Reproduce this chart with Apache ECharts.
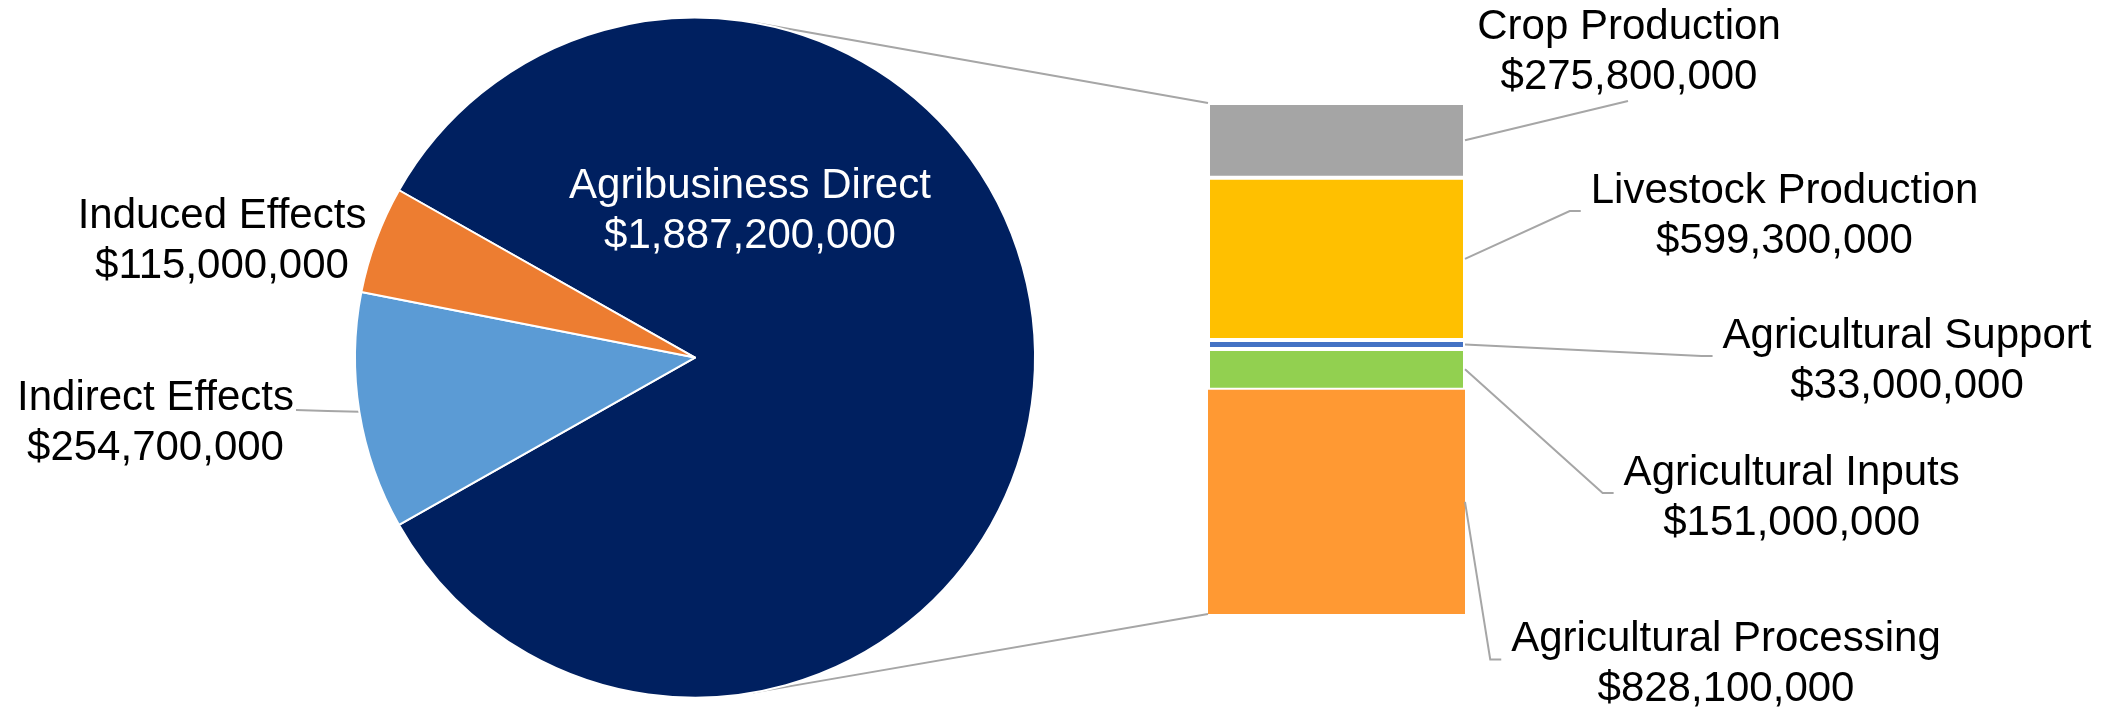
<!DOCTYPE html>
<html><head><meta charset="utf-8">
<script src="https://cdn.jsdelivr.net/npm/echarts@6/dist/echarts.min.js"></script>
<style>html,body{margin:0;padding:0;background:#fff}#c{width:2124px;height:708px}</style>
</head><body><div id="c"></div>
<script>
// ---- data ----
const pieNames = ['Agribusiness Direct', 'Indirect Effects', 'Induced Effects'];
const pieValues = [1887200000, 254700000, 115000000];
const pieColors = ['#002060', '#5B9BD5', '#ED7D31'];

const subNames = ['Crop Production', 'Livestock Production', 'Agricultural Support', 'Agricultural Inputs', 'Agricultural Processing'];
const subValues = [275800000, 599300000, 33000000, 151000000, 828100000];
const subColors = ['#A5A5A5', '#FFC000', '#4472C4', '#92D050', '#FF9933'];

// ---- layout ----
const FONT = "'Liberation Sans', Arial, sans-serif";
const FS = 42, LH = 50;
const LINE = '#A6A6A6';
const PIE = { cx: 695, cy: 357.6, r: 340 };
const GRID = { left: 1208, top: 103, width: 257, height: 511 };
const pieLabelPos = [[750, 211], [155.5, 423], [222, 241]];
const subLabelPos = [[1629, 52], [1784.5, 216], [1907, 361], [1791.7, 498], [1726, 664.5]];

const fmt = v => '$' + v.toLocaleString('en-US');
const pieTotal = pieValues.reduce((a, b) => a + b, 0);
const subTotal = subValues.reduce((a, b) => a + b, 0);
const startAngle = 360 * pieValues[0] / pieTotal / 2;

function midAngle(i) {
  let before = 0;
  for (let k = 0; k < i; k++) before += pieValues[k];
  return startAngle - (before + pieValues[i] / 2) / pieTotal * 360;
}
function tangent(px, py, upper) {
  const dx = px - PIE.cx, dy = PIE.cy - py;
  const d = Math.hypot(dx, dy);
  const th = Math.atan2(dy, dx);
  const a = Math.acos(PIE.r / d);
  const t = upper ? th + a : th - a;
  return [PIE.cx + PIE.r * Math.cos(t), PIE.cy - PIE.r * Math.sin(t)];
}
const measureCtx = document.createElement('canvas').getContext('2d');
function textWidth(lines) {
  measureCtx.font = FS + 'px ' + FONT;
  return Math.max.apply(null, lines.map(s => measureCtx.measureText(s).width));
}

const chart = echarts.init(document.getElementById('c'), null, { renderer: 'canvas' });

const barSeries = subNames.map((name, i) => ({
  type: 'bar',
  name: name,
  stack: 'sub',
  barCategoryGap: '0%',
  silent: true,
  animation: false,
  itemStyle: { color: subColors[i], borderColor: '#fff', borderWidth: i === subNames.length - 1 ? 0 : 2 },
  data: [subValues[i]],
  label: {
    show: true, position: 'right',
    fontFamily: FONT, fontSize: FS, lineHeight: LH, color: '#000',
    formatter: p => p.seriesName + '\n' + fmt(p.value)
  },
  labelLine: { show: false },
  labelLayout: function () {
    const pos = subLabelPos[i];
    return { x: pos[0], y: pos[1], align: 'center', verticalAlign: 'middle' };
  }
}));

const topT = tangent(GRID.left, GRID.top, true);
const botT = tangent(GRID.left, GRID.top + GRID.height, false);

const option = {
  animation: false,
  backgroundColor: '#fff',
  grid: { left: GRID.left, top: GRID.top, width: GRID.width, height: GRID.height },
  xAxis: { type: 'category', data: ['Agribusiness Direct'], show: false },
  yAxis: { type: 'value', min: 0, max: subTotal, inverse: true, show: false },
  series: [
    {
      type: 'pie',
      center: [PIE.cx, PIE.cy],
      radius: PIE.r,
      startAngle: startAngle,
      clockwise: true,
      avoidLabelOverlap: false,
      silent: true,
      itemStyle: { borderColor: '#fff', borderWidth: 2 },
      label: {
        show: true, position: 'outside', overflow: 'none',
        fontFamily: FONT, fontSize: FS, lineHeight: LH, color: '#000',
        formatter: p => p.name + '\n' + fmt(p.value)
      },
      labelLine: { show: true, length: 10, length2: 10, lineStyle: { color: LINE, width: 2 } },
      labelLayout: function (p) {
        const pos = pieLabelPos[p.dataIndex];
        const out = { x: pos[0], y: pos[1], align: 'center', verticalAlign: 'middle' };
        if (p.dataIndex === 1) {
          const a = midAngle(1) * Math.PI / 180;
          const edge = [PIE.cx + PIE.r * Math.cos(a), PIE.cy - PIE.r * Math.sin(a)];
          const right = pos[0] + p.labelRect.width / 2 + 2;
          const y = pos[1] - 13;
          out.labelLinePoints = [edge, [(edge[0] + right) / 2, (edge[1] + y) / 2], [right, y]];
        }
        return out;
      },
      data: pieNames.map((n, i) => ({
        name: n,
        value: pieValues[i],
        itemStyle: { color: pieColors[i] },
        label: i === 0 ? { position: 'inside', color: '#fff' } : {},
        labelLine: { show: i === 1 }
      }))
    }
  ].concat(barSeries)
};
chart.setOption(option);

// connector and leader lines, derived from the chart's own axis scale
const graphics = [
  { id: 'ct', type: 'line', z: 0, shape: { x1: topT[0], y1: topT[1], x2: GRID.left, y2: chart.convertToPixel({ yAxisIndex: 0 }, 0) }, style: { stroke: LINE, lineWidth: 2 } },
  { id: 'cb', type: 'line', z: 0, shape: { x1: botT[0], y1: botT[1], x2: GRID.left, y2: chart.convertToPixel({ yAxisIndex: 0 }, subTotal) }, style: { stroke: LINE, lineWidth: 2 } }
];
let cum = 0;
subNames.forEach((name, i) => {
  const y0 = chart.convertToPixel({ yAxisIndex: 0 }, cum);
  const y1 = chart.convertToPixel({ yAxisIndex: 0 }, cum + subValues[i]);
  cum += subValues[i];
  const start = [GRID.left + GRID.width, (y0 + y1) / 2];
  const pos = subLabelPos[i];
  const w = textWidth([name, fmt(subValues[i])]);
  let pts;
  if (i === 0) {
    pts = [start, [pos[0] - 1, pos[1] + LH - 1]];
  } else {
    const left = pos[0] - w / 2;
    pts = [start, [left - 21, pos[1] - 5], [left - 10, pos[1] - 5]];
  }
  graphics.push({ id: 'l' + i, type: 'polyline', z: 10, shape: { points: pts }, style: { stroke: LINE, lineWidth: 2, fill: null } });
});
chart.setOption({ graphic: graphics });
</script>
</body></html>
